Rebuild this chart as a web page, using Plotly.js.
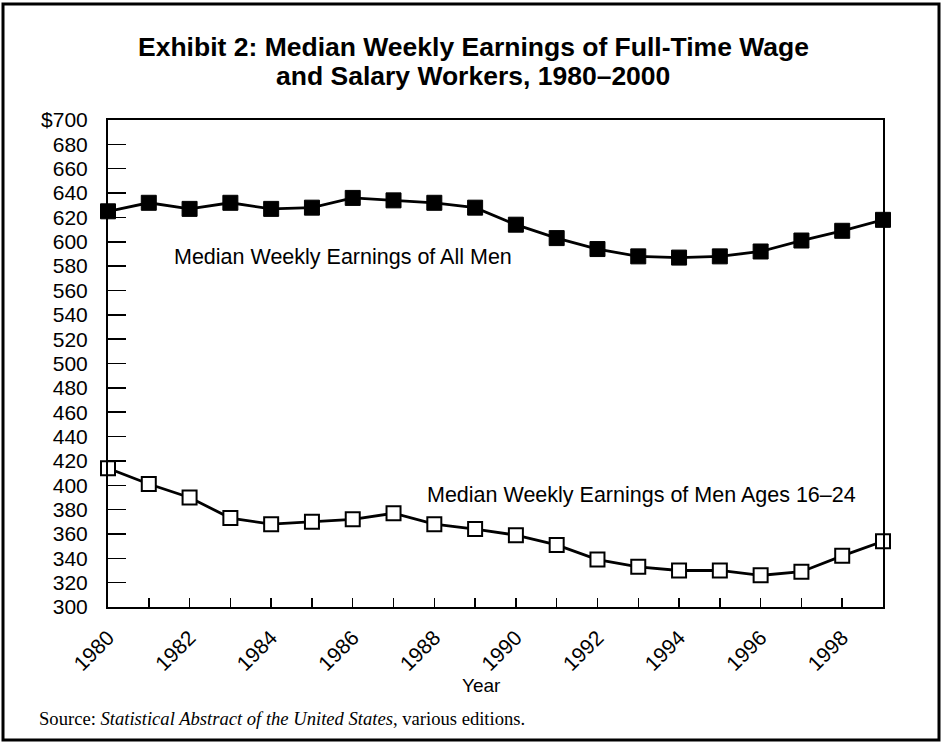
<!DOCTYPE html>
<html>
<head>
<meta charset="utf-8">
<script src="https://cdn.plot.ly/plotly-3.0.1.min.js"></script>
<style>
html,body{margin:0;padding:0;background:#fff;}
#chart{width:944px;height:745px;}
</style>
</head>
<body>
<div id="chart"></div>
<script>
const years = [1980,1981,1982,1983,1984,1985,1986,1987,1988,1989,1990,1991,1992,1993,1994,1995,1996,1997,1998,1999];
const allMen = [625,632,627,632,627,628,636,634,632,628,614,603,594,588,587,588,592,601,609,618];
const youngMen = [414,401,390,373,368,370,372,377,368,364,359,351,339,333,330,330,326,329,342,354];
const xTickText = ['1980','','1982','','1984','','1986','','1988','','1990','','1992','','1994','','1996','','1998',''];
const yTickVals = [300,320,340,360,380,400,420,440,460,480,500,520,540,560,580,600,620,640,660,680,700];
const yTickText = yTickVals.map(v => v === 700 ? '$700' : String(v));
const labelAll = 'Median Weekly Earnings of All Men';
const labelYoung = 'Median Weekly Earnings of Men Ages 16–24';
const titleLine1 = 'Exhibit 2: Median Weekly Earnings of Full-Time Wage';
const titleLine2 = 'and Salary Workers, 1980–2000';
const xTitle = 'Year';
const sourceText = 'Source: <i>Statistical Abstract of the United States</i>, various editions.';

const traces = [
  {
    x: years, y: allMen, type: 'scatter', mode: 'lines+markers',
    line: {color: '#000', width: 2.8},
    marker: {symbol: 'square', size: 15, color: '#000', line: {color: '#000', width: 1}},
    cliponaxis: false, showlegend: false, hoverinfo: 'skip'
  },
  {
    x: years, y: youngMen, type: 'scatter', mode: 'lines+markers',
    line: {color: '#000', width: 2.8},
    marker: {symbol: 'square', size: 14, color: '#fff', line: {color: '#000', width: 2}},
    cliponaxis: false, showlegend: false, hoverinfo: 'skip'
  }
];

const W = 775, H = 487, L = 108, T = 120;
const px = x => (x - L) / W;
const py = y => (T + H - y) / H;
const SANS = 'Liberation Sans, Arial, Helvetica, sans-serif';
const layout = {
  width: 944, height: 745,
  paper_bgcolor: '#fff', plot_bgcolor: '#fff',
  margin: {l: L, r: 944 - L - W, t: T, b: 745 - T - H, pad: 0},
  font: {family: SANS, color: '#000', size: 21},
  xaxis: {
    range: [1980, 1999], tickmode: 'array', tickvals: years, ticktext: xTickText,
    ticks: 'inside', ticklen: 9, tickwidth: 1.5, tickcolor: '#000',
    tickangle: -45, ticklabelstandoff: 8,
    showline: true, linecolor: '#000', linewidth: 2, mirror: true,
    showgrid: false, zeroline: false,
    tickfont: {size: 21, family: SANS}
  },
  yaxis: {
    range: [300, 700], tickmode: 'array', tickvals: yTickVals, ticktext: yTickText,
    ticks: 'inside', ticklen: 18, tickwidth: 1.5, tickcolor: '#000',
    ticklabelstandoff: 14,
    showline: true, linecolor: '#000', linewidth: 2, mirror: true,
    showgrid: false, zeroline: false,
    tickfont: {size: 21, family: SANS}
  },
  annotations: [
    {text: titleLine1, x: px(473), y: py(47), xref: 'paper', yref: 'paper', xanchor: 'center', yanchor: 'middle', showarrow: false,
     font: {size: 26.5, family: SANS, weight: 'bold'}},
    {text: titleLine2, x: px(473), y: py(76), xref: 'paper', yref: 'paper', xanchor: 'center', yanchor: 'middle', showarrow: false,
     font: {size: 26.5, family: SANS, weight: 'bold'}},
    {text: labelAll, x: 1981.57, y: 587.5, xref: 'x', yref: 'y', xanchor: 'left', yanchor: 'middle', showarrow: false,
     font: {size: 21.5, family: SANS}},
    {text: labelYoung, x: 1987.77, y: 392, xref: 'x', yref: 'y', xanchor: 'left', yanchor: 'middle', showarrow: false,
     font: {size: 21.5, family: SANS}},
    {text: xTitle, x: px(481), y: py(685), xref: 'paper', yref: 'paper', xanchor: 'center', yanchor: 'middle', showarrow: false,
     font: {size: 19, family: SANS}},
    {text: sourceText, x: px(37), y: py(718), xref: 'paper', yref: 'paper', xanchor: 'left', yanchor: 'middle', showarrow: false,
     font: {size: 18.6, family: 'Liberation Serif, Times New Roman, serif'}}
  ],
  shapes: [
    {type: 'rect', xref: 'paper', yref: 'paper',
     x0: px(3), x1: px(939), y0: py(740), y1: py(4),
     line: {color: '#000', width: 3}, fillcolor: 'rgba(0,0,0,0)', layer: 'above'}
  ]
};

Plotly.newPlot('chart', traces, layout, {displayModeBar: false, staticPlot: true});
</script>
</body>
</html>
